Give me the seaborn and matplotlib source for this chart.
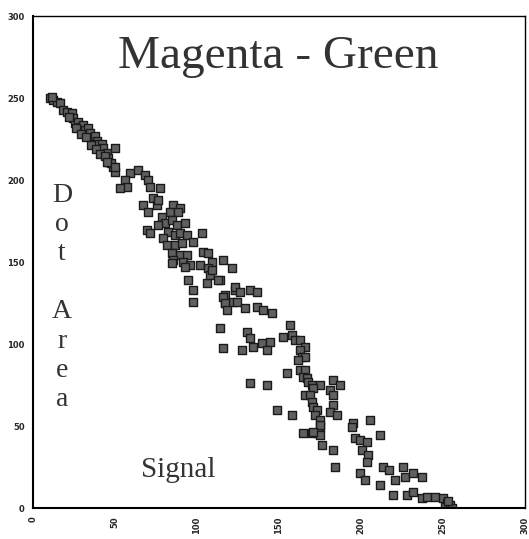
import matplotlib
matplotlib.use("Agg")
import matplotlib.pyplot as plt
import seaborn as sns
import pandas as pd

# Signal (x) values
signal = [
    10.4, 12.4, 14.5, 16.5, 18.3, 20.5, 23.6, 24.4, 25.6, 27.4, 28.7, 30.5, 31.7, 33.5,
    34.8, 36.0, 37.8, 39.0, 39.6, 42.0, 42.7, 45.0, 45.7, 50.0, 45.7, 48.8, 50.0,
    11.5, 22.0, 26.5, 29.5, 32.5, 35.5, 38.5, 41.0, 44.0, 47.5,
    44.9, 50.0, 59.1, 56.1, 64.2, 68.3, 70.3, 71.3, 57.1, 53.0, 77.4, 73.4, 67.3, 75.4,
    76.4, 70.3, 85.6, 89.6, 83.5, 88.6, 78.5, 80.5, 76.4, 84.6, 87.6, 92.7, 69.3, 71.3,
    82.5, 79.5, 86.6, 89.6, 93.7, 102.9, 97.7, 81.5, 86.6, 90.7, 84.6, 89.6, 93.7, 85.6,
    84.6, 91.6, 95.7, 92.7, 101.8, 103.9, 106.9, 108.9, 106.9, 116.0, 114.0, 105.9, 94.7,
    97.7, 97.7, 117.1, 117.1, 122.1, 123.2, 107.9, 109.0, 121.2, 113.0,
    116.0, 123.2, 126.2, 132.3, 136.4, 117.1, 118.1, 124.2, 129.3, 136.4, 140.4, 145.5,
    114.0, 130.3, 132.3, 134.3, 139.4, 144.5, 142.5, 127.3, 116.0, 156.7, 152.6, 157.7,
    159.8, 162.8, 165.9, 162.8, 163.8, 165.9, 161.8, 162.8, 165.9, 164.8, 166.9, 167.9,
    170.0, 175.0, 171.0, 165.9, 168.9, 170.0, 171.0, 173.0, 171.9, 175.0, 175.0, 174.0,
    170.0, 164.8, 176.0, 154.7, 132.3, 142.5, 148.6, 157.7, 183.1, 187.2, 181.1, 183.1,
    183.1, 181.1, 185.2, 195.3, 194.3, 196.3, 183.1, 175.0, 175.0, 171.0, 184.1,
    205.5, 211.6, 199.4, 203.5, 200.4, 204.5, 203.5, 199.4, 202.4, 211.6, 213.7, 216.8,
    220.7, 225.8, 226.8, 231.9, 237.0, 219.7, 227.9, 231.9, 237.0, 240.0, 245.1, 250.2,
    252.3, 251.2, 254.3, 255.3, 253.0,
]

# Dot Area (y) values
dot_area = [
    250.2, 248.8, 247.7, 247.0, 242.7, 241.6, 240.9, 237.8, 234.8, 235.4, 232.3, 233.5, 230.5, 231.7,
    228.7, 225.6, 226.8, 223.8, 222.0, 222.0, 219.5, 216.5, 213.4, 219.5, 211.0, 208.0, 205.0,
    250.5, 238.5, 231.5, 228.0, 226.0, 221.5, 219.0, 216.0, 214.5, 210.5,
    211.2, 208.0, 204.0, 200.0, 206.0, 203.0, 200.0, 196.0, 196.0, 195.0, 195.0, 188.8, 184.8, 184.8,
    187.8, 180.5, 184.8, 182.7, 180.7, 180.5, 177.6, 173.6, 172.6, 175.6, 172.6, 173.6, 169.5, 167.5,
    168.5, 164.4, 166.5, 167.5, 166.5, 167.5, 162.4, 160.4, 160.4, 161.4, 155.3, 154.3, 154.3, 151.2,
    149.2, 150.2, 148.2, 147.2, 148.2, 156.3, 155.3, 150.2, 146.2, 151.2, 139.0, 137.0, 139.0,
    132.9, 125.8, 129.9, 124.8, 125.8, 132.9, 142.0, 145.0, 146.2, 139.0,
    128.8, 134.9, 131.9, 132.9, 131.9, 124.8, 120.7, 125.8, 121.8, 122.8, 120.7, 118.7,
    109.6, 107.5, 103.5, 98.4, 100.4, 101.4, 96.3, 96.3, 97.4, 111.6, 104.5, 105.5,
    102.4, 102.4, 98.4, 96.3, 92.3, 92.3, 90.2, 84.1, 84.1, 80.1, 79.1, 77.0,
    75.0, 75.0, 73.0, 68.9, 68.9, 64.8, 61.8, 59.8, 56.7, 53.7, 49.6, 45.5,
    45.5, 45.5, 38.4, 82.1, 76.0, 75.0, 59.8, 56.7, 78.0, 75.0, 72.0, 68.9,
    62.8, 58.7, 56.7, 51.6, 49.6, 42.5, 35.4, 50.6, 44.5, 46.5, 25.2,
    53.7, 44.5, 41.5, 40.2, 35.4, 32.3, 28.2, 21.1, 17.1, 14.0, 25.2, 23.2,
    17.1, 25.2, 19.1, 21.1, 19.1, 7.9, 7.9, 9.9, 5.9, 6.9, 6.9, 5.9,
    2.9, 0.8, 1.8, -0.2, 4.0,
]

x_ticks = [0, 50, 100, 150, 200, 250, 300]
y_ticks = [0, 50, 100, 150, 200, 250, 300]

df = pd.DataFrame({"Signal": signal, "Dot Area": dot_area})

sns.set_style("white")
fig = plt.figure(figsize=(5.29, 5.39), dpi=100)
ax = fig.add_axes([0.0624, 0.0575, 0.930, 0.9128])

sns.scatterplot(data=df, x="Signal", y="Dot Area", ax=ax, marker="s", s=34,
                color="#606060", edgecolor="#1a1a1a", linewidth=1.0, legend=False)

ax.set_xlim(0, 300)
ax.set_ylim(0, 300)
ax.set_xticks(x_ticks)
ax.set_yticks(y_ticks)
ax.set_xticklabels([str(t) for t in x_ticks], rotation=90, fontsize=6, fontweight="bold")
ax.set_yticklabels([str(t) for t in y_ticks], fontsize=6, fontweight="bold")
ax.tick_params(axis="both", direction="out", length=4, width=1, color="black", pad=2)
ax.set_xlabel("")
ax.set_ylabel("")
for sp in ax.spines.values():
    sp.set_visible(True)
    sp.set_color("black")
    sp.set_linewidth(1.0)
ax.spines["left"].set_linewidth(1.5)
ax.spines["bottom"].set_linewidth(1.5)

serif = ["Liberation Serif", "DejaVu Serif"]
ax.text(149.4, 268, "Magenta - Green", family=serif, fontsize=34, color="#333333",
        ha="center", va="baseline")
ax.text(17.7, 128.5, "D\no\nt\n\nA\nr\ne\na", family=serif, fontsize=20, color="#333333",
        ha="center", va="center", linespacing=1.22)
ax.text(88.4, 23.2, "Signal", family=serif, fontsize=21, color="#333333",
        ha="center", va="center")

fig.savefig("out.png", dpi=100)
